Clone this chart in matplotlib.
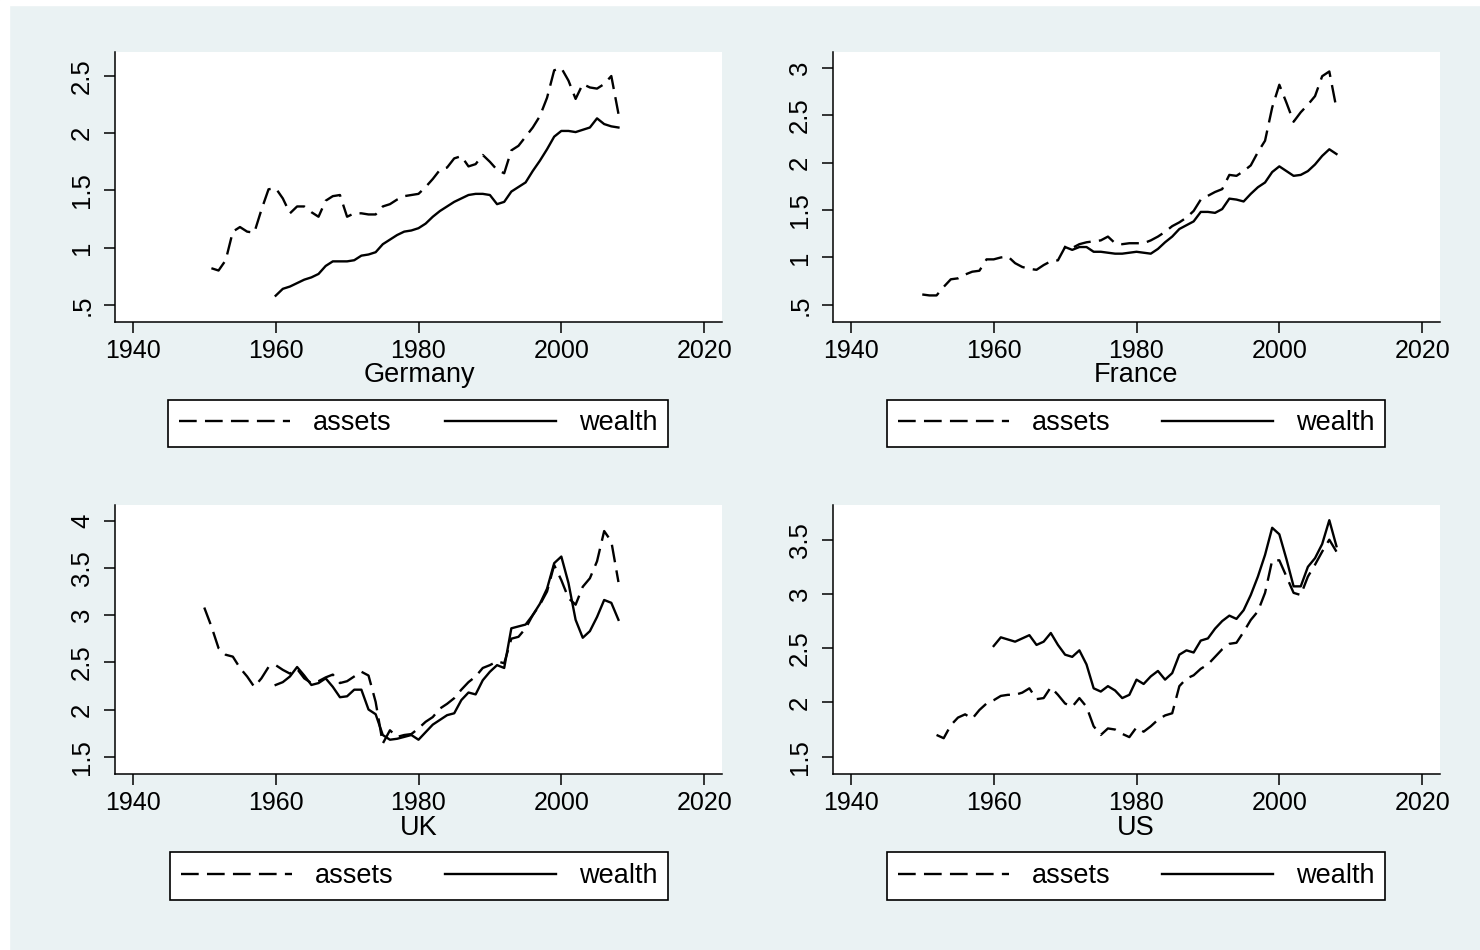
import numpy as np
import matplotlib
matplotlib.use('Agg')
import matplotlib.pyplot as plt
from matplotlib.patches import Rectangle

# assets / wealth ratios by country, one value per year

# Germany
de_assets_years = np.arange(1951, 2009)
de_assets = [0.82, 0.80, 0.89, 1.14, 1.18, 1.14, 1.13, 1.33, 1.51,
             1.52, 1.43, 1.30, 1.36, 1.36, 1.31, 1.27, 1.41, 1.45, 1.46,
             1.27, 1.30, 1.30, 1.29, 1.29, 1.36, 1.38, 1.42, 1.45, 1.46,
             1.47, 1.53, 1.60, 1.68, 1.70, 1.78, 1.80, 1.71, 1.73, 1.81,
             1.75, 1.68, 1.65, 1.85, 1.89, 1.97, 2.05, 2.15, 2.31, 2.55,
             2.57, 2.46, 2.30, 2.43, 2.40, 2.39, 2.43, 2.50, 2.17]
de_wealth_years = np.arange(1960, 2009)
de_wealth = [0.58, 0.64, 0.66, 0.69, 0.72, 0.74, 0.77, 0.84, 0.88, 0.88,
             0.88, 0.89, 0.93, 0.94, 0.96, 1.03, 1.07, 1.11, 1.14, 1.15,
             1.17, 1.21, 1.27, 1.32, 1.36, 1.40, 1.43, 1.46, 1.47, 1.47,
             1.46, 1.38, 1.40, 1.49, 1.53, 1.57, 1.67, 1.76, 1.86, 1.97,
             2.02, 2.02, 2.01, 2.03, 2.05, 2.13, 2.08, 2.06, 2.05]

# France
fr_assets_years = np.arange(1950, 2009)
fr_assets = [0.61, 0.60, 0.60, 0.69, 0.77, 0.78, 0.82, 0.85, 0.86, 0.98,
             0.98, 1.00, 1.01, 0.94, 0.90, 0.88, 0.87, 0.92, 0.96, 0.97,
             1.11, 1.10, 1.14, 1.16, 1.17, 1.18, 1.22, 1.15, 1.14, 1.15,
             1.15, 1.15, 1.18, 1.22, 1.27, 1.33, 1.37, 1.42, 1.49, 1.61,
             1.65, 1.69, 1.72, 1.87, 1.86, 1.91, 1.97, 2.11, 2.23, 2.58,
             2.82, 2.63, 2.43, 2.53, 2.61, 2.70, 2.91, 2.96, 2.57]
fr_wealth_years = np.arange(1970, 2009)
fr_wealth = [1.11, 1.08, 1.11, 1.11, 1.06, 1.06, 1.05, 1.04, 1.04, 1.05,
             1.06, 1.05, 1.04, 1.09, 1.16, 1.22, 1.30, 1.34, 1.38, 1.48,
             1.48, 1.47, 1.51, 1.62, 1.61, 1.59, 1.67, 1.74, 1.79, 1.90,
             1.96, 1.91, 1.86, 1.87, 1.91, 1.98, 2.07, 2.14, 2.09]

# UK
uk_assets_years = np.arange(1950, 2009)
uk_assets = [3.08, 2.88, 2.65, 2.58, 2.56, 2.44, 2.35, 2.24, 2.33, 2.45,
             2.47, 2.42, 2.38, 2.43, 2.33, 2.28, 2.30, 2.34, 2.37, 2.28,
             2.30, 2.35, 2.40, 2.36, 2.08, 1.64, 1.78, 1.71, 1.73, 1.74,
             1.80, 1.87, 1.92, 2.01, 2.06, 2.12, 2.21, 2.29, 2.35, 2.44,
             2.47, 2.51, 2.49, 2.75, 2.77, 2.86, 3.00, 3.11, 3.25, 3.53,
             3.37, 3.18, 3.11, 3.30, 3.39, 3.57, 3.89, 3.78, 3.35]
uk_wealth_years = np.arange(1960, 2009)
uk_wealth = [2.26, 2.29, 2.35, 2.45, 2.36, 2.26, 2.28, 2.33, 2.24, 2.13,
             2.14, 2.21, 2.21, 2.00, 1.95, 1.73, 1.68, 1.69, 1.71, 1.73,
             1.68, 1.76, 1.84, 1.89, 1.94, 1.96, 2.10, 2.18, 2.16, 2.31,
             2.40, 2.47, 2.44, 2.86, 2.88, 2.90, 3.00, 3.12, 3.28, 3.55,
             3.62, 3.34, 2.95, 2.76, 2.83, 2.98, 3.16, 3.13, 2.95]

# US
us_assets_years = np.arange(1952, 2009)
us_assets = [1.70, 1.67, 1.79, 1.86, 1.89, 1.85, 1.93, 1.99,
             2.02, 2.06, 2.07, 2.07, 2.09, 2.13, 2.03, 2.04, 2.14, 2.07,
             1.99, 1.96, 2.04, 1.96, 1.78, 1.70, 1.76, 1.75, 1.71, 1.68,
             1.77, 1.73, 1.78, 1.84, 1.88, 1.90, 2.15, 2.22, 2.25, 2.31,
             2.35, 2.42, 2.49, 2.54, 2.55, 2.65, 2.76, 2.84, 3.01, 3.31,
             3.31, 3.16, 3.01, 2.99, 3.16, 3.27, 3.39, 3.50, 3.39]
us_wealth_years = np.arange(1960, 2009)
us_wealth = [2.52, 2.60, 2.58, 2.56, 2.59, 2.62, 2.53, 2.56, 2.64, 2.53,
             2.44, 2.42, 2.48, 2.35, 2.13, 2.10, 2.15, 2.11, 2.04, 2.07,
             2.21, 2.17, 2.24, 2.29, 2.21, 2.27, 2.44, 2.48, 2.46, 2.57,
             2.59, 2.68, 2.75, 2.80, 2.77, 2.85, 2.99, 3.16, 3.36, 3.61,
             3.55, 3.32, 3.07, 3.07, 3.25, 3.33, 3.46, 3.68, 3.44]

countries = ['Germany', 'France', 'UK', 'US']
xticks = [1940, 1960, 1980, 2000, 2020]
yticks = [[0.5, 1, 1.5, 2, 2.5],
          [0.5, 1, 1.5, 2, 2.5, 3],
          [1.5, 2, 2.5, 3, 3.5, 4],
          [1.5, 2, 2.5, 3, 3.5]]
ytick_labels = [['.5', '1', '1.5', '2', '2.5'],
                ['.5', '1', '1.5', '2', '2.5', '3'],
                ['1.5', '2', '2.5', '3', '3.5', '4'],
                ['1.5', '2', '2.5', '3', '3.5']]

series = [(de_assets_years, de_assets, de_wealth_years, de_wealth),
          (fr_assets_years, fr_assets, fr_wealth_years, fr_wealth),
          (uk_assets_years, uk_assets, uk_wealth_years, uk_wealth),
          (us_assets_years, us_assets, us_wealth_years, us_wealth)]

# layout in pixels: axes box (left, top, right, bottom), legend box, label centre
W, H = 1480, 950
axes_px = [(115, 52, 722, 322), (833, 52, 1440, 322),
           (115, 505, 722, 774), (833, 505, 1440, 774)]
legend_px = [(168, 400, 668, 447), (887, 400, 1385, 447),
             (170, 853, 668, 899), (887, 853, 1385, 899)]
label_px = [(419, 375), (1136, 375), (419, 828), (1136, 828)]
ylims = [(0.35, 2.71), (0.32, 3.165), (1.317, 4.166), (1.34, 3.82)]

bg = '#eaf2f3'
fs = 18
fs_text = 19.5
dash = (0, (7.5, 3.5))

plt.rcParams['font.family'] = ['Liberation Sans', 'DejaVu Sans']

fig = plt.figure(figsize=(W / 100, H / 100), dpi=100, facecolor=bg)
# thin white margin on left and top edge
fig.patches.append(Rectangle((0, 0), 9 / W, 1, transform=fig.transFigure,
                             color='white', zorder=-5))
fig.patches.append(Rectangle((0, 1 - 5 / H), 1, 5 / H, transform=fig.transFigure,
                             color='white', zorder=-5))

for i in range(4):
    l, t, r, b = axes_px[i]
    ax = fig.add_axes([l / W, 1 - b / H, (r - l) / W, (b - t) / H])
    ax.set_facecolor('white')
    ya, va, yw, vw = series[i]
    ax.plot(ya, va, color='black', lw=1.7, ls=dash, label='assets')
    ax.plot(yw, vw, color='black', lw=1.7, label='wealth')

    ax.set_xlim(1937.5, 2022.5)
    ax.set_ylim(*ylims[i])
    ax.set_xticks(xticks)
    ax.set_xticklabels([str(x) for x in xticks])
    ax.set_yticks(yticks[i])
    ax.set_yticklabels(ytick_labels[i], rotation=90, va='center')
    for s in ['top', 'right']:
        ax.spines[s].set_visible(False)
    for s in ['left', 'bottom']:
        ax.spines[s].set_linewidth(1.1)
    ax.tick_params(direction='out', length=8, width=1.1, labelsize=fs, colors='black')
    ax.tick_params(axis='x', pad=4)
    ax.tick_params(axis='y', pad=7, labelsize=fs + 0.5)

    cx, cy = label_px[i]
    fig.text(cx / W, 1 - cy / H, countries[i], ha='center', va='center', fontsize=fs_text)

    x0, y0, x1, y1 = legend_px[i]
    leg = ax.legend(loc='center', ncol=2, mode='expand',
                    bbox_to_anchor=(x0 / W, 1 - (y0 + y1) / 2 / H, (x1 - x0) / W, 0),
                    bbox_transform=fig.transFigure, borderaxespad=0,
                    fancybox=False, edgecolor='black', framealpha=1,
                    handlelength=4.1, handletextpad=0.85, borderpad=0.4,
                    fontsize=fs_text)
    leg.get_frame().set_linewidth(1.2)

fig.savefig('out.png', dpi=100, facecolor=bg)
